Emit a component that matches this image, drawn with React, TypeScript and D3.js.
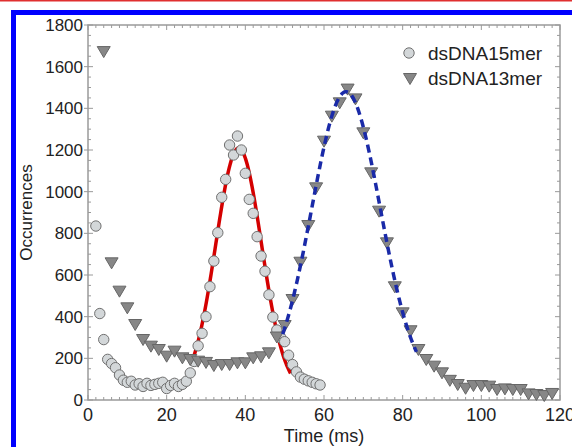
import React from "react";
import * as d3 from "d3";

// ---- data ----
const circleTimes = [2,3,4,5,6,7,8,9,10,11,12,13,14,15,16,17,18,19,20,21,22,23,24,25,26,27,28,29,30,31,32,33,34,35,36,37,38,39,40,41,42,43,44,45,46,47,48,49,50,51,52,53,54,55,56,57,58,59];
const circleValues = [835,415,290,195,175,155,120,95,85,90,72,78,65,80,70,75,80,85,55,70,80,65,75,90,130,185,260,320,400,544,667,803,973,1059,1224,1176,1267,1200,1088,963,896,784,691,618,505,398,336,300,280,215,170,135,110,100,92,85,78,72];

const triTimes = [4,6,8,10,12,14,16,18,20,22,24,26,28,30,32,34,36,38,40,42,44,46,48,50,52,54,56,58,60,62,64,66,68,70,72,74,76,78,80,82,84,86,88,90,92,94,96,98,100,102,104,106,108,110,112,114,116,118];
const triValues = [1670,656,520,440,360,288,256,240,208,232,200,192,184,178,163,168,168,176,176,200,205,224,300,355,480,659,835,1016,1240,1360,1424,1490,1443,1280,1088,904,752,541,416,330,240,192,160,128,92,72,54,67,67,64,48,51,48,48,27,24,19,29];

// Gaussian fit parameters: [mu, sigma, amplitude, baseline, from, to]
const redFit = [38.3, 5.8, 1170, 40, 26.3, 51.5];
const blueFit = [65.6, 8.7, 1420, 60, 49.5, 83.5];

const xTicks = [0, 20, 40, 60, 80, 100, 120];
const yTicks = [0, 200, 400, 600, 800, 1000, 1200, 1400, 1600, 1800];
const seriesNames = ["dsDNA15mer", "dsDNA13mer"];
const xTitle = "Time (ms)";
const yTitle = "Occurrences";

const W = 572, H = 447;
const L = 88, R = 560, T = 25, B = 400;
const FONT = "'Liberation Sans', Arial, Helvetica, sans-serif";

function fitPoints(p: number[]) {
  const [mu, s, a, b, from, to] = p;
  const xs = d3.range(from, to + 0.001, 0.2);
  return xs.map((t) => [t, b + a * Math.exp(-((t - mu) ** 2) / (2 * s * s))] as [number, number]);
}

function tri(cx: number, cy: number, w = 13, h = 11) {
  return `M${cx - w / 2},${cy - h / 2}L${cx + w / 2},${cy - h / 2}L${cx},${cy + h / 2}Z`;
}

export default function App() {
  const x = d3.scaleLinear().domain([0, 120]).range([L, R]);
  const y = d3.scaleLinear().domain([0, 1800]).range([B, T]);
  const line = d3.line<[number, number]>().x((d) => x(d[0])).y((d) => y(d[1]));

  const axisColor = "#9a9a9a";
  const xMinor = d3.range(0, 120.001, 2);
  const yMinor = d3.range(0, 1800.001, 50);

  return (
    <svg width={W} height={H} style={{ position: "absolute", left: 0, top: 0, background: "#fff" }}>
      {/* frame decorations */}
      <rect x={0} y={0} width={W} height={1.5} fill="#e03030" />
      <rect x={11} y={10} width={W - 11} height={5} fill="#0000ff" />
      <rect x={11} y={10} width={5} height={H - 10} fill="#0000ff" />

      {/* plot box */}
      <rect x={L} y={T} width={R - L} height={B - T} fill="none" stroke={axisColor} strokeWidth={1.5} />
      {xMinor.map((v) => {
        const major = v % 20 === 0;
        const len = major ? 5 : 3;
        return (
          <g key={"xm" + v} stroke={axisColor} strokeWidth={1}>
            <line x1={x(v)} x2={x(v)} y1={B} y2={B - len} />
            <line x1={x(v)} x2={x(v)} y1={T} y2={T + len} />
          </g>
        );
      })}
      {yMinor.map((v) => {
        const major = v % 200 === 0;
        const len = major ? 5 : 3;
        return (
          <g key={"ym" + v} stroke={axisColor} strokeWidth={1}>
            <line x1={major ? L - 4 : L} x2={L + len} y1={y(v)} y2={y(v)} />
            <line x1={R} x2={R - len} y1={y(v)} y2={y(v)} />
          </g>
        );
      })}

      {/* tick labels */}
      {xTicks.map((v) => (
        <text key={"xt" + v} x={x(v)} y={421} textAnchor="middle" fontFamily={FONT} fontSize={18} fill="#222">
          {v}
        </text>
      ))}
      {yTicks.map((v) => (
        <text key={"yt" + v} x={83} y={y(v)} dy="0.36em" textAnchor="end" fontFamily={FONT} fontSize={17} fill="#222">
          {v}
        </text>
      ))}
      <text x={(L + R) / 2} y={442} textAnchor="middle" fontFamily={FONT} fontSize={18} fill="#222">
        {xTitle}
      </text>
      <text
        transform={`translate(32,${(T + B) / 2}) rotate(-90)`}
        textAnchor="middle"
        fontFamily={FONT}
        fontSize={17}
        fill="#222"
      >
        {yTitle}
      </text>

      {/* red fit */}
      <path d={line(fitPoints(redFit)) || ""} fill="none" stroke="#d40000" strokeWidth={3.5} strokeLinejoin="round" />

      {/* circles */}
      {circleTimes.map((t, i) => (
        <circle key={"c" + i} cx={x(t)} cy={y(circleValues[i])} r={5.2} fill="#d3d7d9" stroke="#707070" strokeWidth={1} />
      ))}

      {/* triangles */}
      {triTimes.map((t, i) => (
        <path key={"t" + i} d={tri(x(t), y(triValues[i]))} fill="#878787" stroke="#666" strokeWidth={1} strokeLinejoin="round" />
      ))}

      {/* blue fit */}
      <path
        d={line(fitPoints(blueFit)) || ""}
        fill="none"
        stroke="#1a2aa8"
        strokeWidth={3.5}
        strokeDasharray="8,5"
      />

      {/* legend */}
      <circle cx={409} cy={53} r={5.2} fill="#d3d7d9" stroke="#707070" strokeWidth={1} />
      <text x={428} y={59.5} fontFamily={FONT} fontSize={19} fill="#222">{seriesNames[0]}</text>
      <path d={tri(410, 79)} fill="#878787" stroke="#666" strokeWidth={1} />
      <text x={428} y={85} fontFamily={FONT} fontSize={19} fill="#222">{seriesNames[1]}</text>
    </svg>
  );
}
